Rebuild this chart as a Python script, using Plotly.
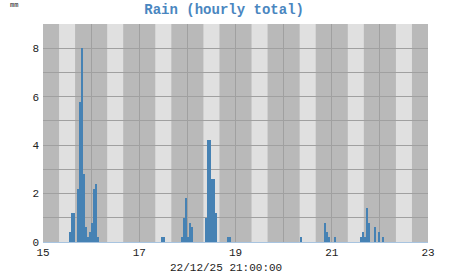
import plotly.graph_objects as go
import pandas as pd

# Data: hour offsets from 2025-12-15 00:00 and hourly rain totals (mm)
start = "2025-12-15 00:00"
hours = [13, 14, 15, 17, 18, 19, 20, 21, 22, 23, 24, 25, 26, 27,
         59, 60, 69, 70, 71, 72, 73, 74,
         81, 82, 83, 84, 85, 86, 92, 93,
         128, 140, 141, 142, 145,
         158, 159, 160, 161, 162, 165, 167, 169]
rain = [0.4, 1.2, 1.2, 2.2, 5.8, 8.0, 2.8, 0.6, 0.2, 0.4, 0.8, 2.2, 2.4, 0.2,
        0.2, 0.2, 0.2, 1.0, 1.8, 0.2, 0.8, 0.6,
        1.0, 4.2, 4.2, 2.6, 2.6, 1.2, 0.2, 0.2,
        0.2, 0.8, 0.4, 0.2, 0.2,
        0.2, 0.4, 0.2, 1.4, 0.8, 0.6, 0.4, 0.2]
x_start = "2025-12-15"
x_end = "2025-12-23"
title = "Rain (hourly total)"
unit_label = "mm"
date_label = "22/12/25 21:00:00"

t0 = pd.Timestamp(start)
xs = [t0 + pd.Timedelta(hours=h, minutes=30) for h in hours]

fig = go.Figure()
fig.add_trace(go.Bar(x=xs, y=rain, width=3600000, marker=dict(color="#4682b4", line=dict(width=0))))

# day/night background stripes (light band in middle third of each day)
shapes = []
for d in pd.date_range(x_start, x_end, freq="D")[:-1]:
    shapes.append(dict(type="rect", xref="x", yref="paper",
                       x0=d + pd.Timedelta(hours=8), x1=d + pd.Timedelta(hours=16),
                       y0=0, y1=1, fillcolor="#e0e0e0", line=dict(width=0), layer="below"))

mono = "Liberation Mono"
fig.update_layout(
    width=451, height=275,
    margin=dict(l=43, r=23, t=24, b=33),
    paper_bgcolor="white", plot_bgcolor="#b9b9b9",
    showlegend=False, bargap=0,
    shapes=shapes,
    title=dict(text="<b>" + title + "</b>", x=0.497, xanchor="center", y=0.968, yanchor="middle",
               font=dict(family=mono, size=14, color="#4a86c0")),
    font=dict(family=mono, size=11, color="#222"),
    annotations=[
        dict(text=unit_label, xref="paper", yref="paper", x=-0.075, y=1.085,
             xanchor="center", yanchor="middle", showarrow=False,
             font=dict(family=mono, size=7, color="#222")),
        dict(text=date_label, xref="paper", yref="paper", x=0.475, y=-0.118,
             xanchor="center", yanchor="middle", showarrow=False,
             font=dict(family=mono, size=11, color="#222")),
    ],
)
fig.update_xaxes(type="date", range=[x_start, x_end], tick0=x_start, dtick=2 * 86400000,
                 tickformat="%d", showgrid=True, gridcolor="#a0a0a0", gridwidth=1,
                 minor=dict(dtick=86400000, showgrid=True, gridcolor="#a0a0a0"),
                 showline=True, linecolor="#a8c4e0", linewidth=1, ticks="", zeroline=False,
                 tickfont=dict(family=mono, size=11, color="#222"))
fig.update_yaxes(range=[0, 9], dtick=2, tick0=0, showgrid=True, gridcolor="#a0a0a0",
                 minor=dict(dtick=1, showgrid=True, gridcolor="#a0a0a0"),
                 zeroline=False, ticks="", showline=False, ticklabelstandoff=3,
                 tickfont=dict(family=mono, size=11, color="#222"))
fig.write_html("out.html")
